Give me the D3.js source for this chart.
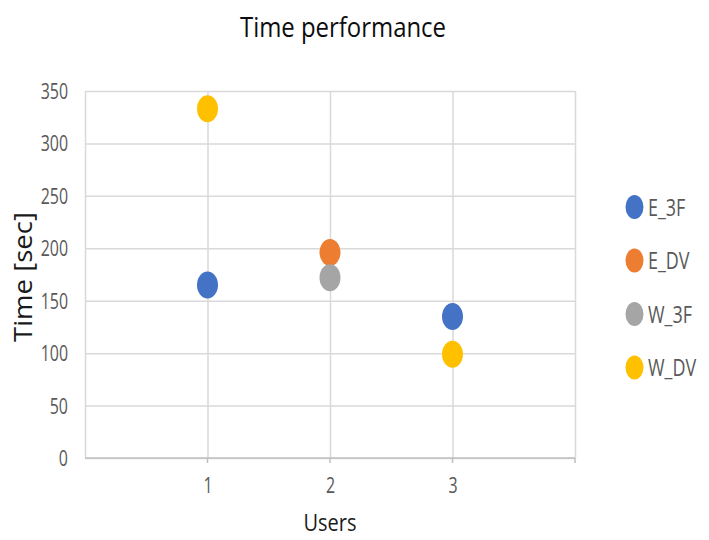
<!DOCTYPE html>
<html>
<head>
<meta charset="utf-8">
<script src="https://cdn.jsdelivr.net/npm/d3@7"></script>
<style>
  html, body { margin: 0; padding: 0; background: #fff; }
  svg { display: block; }
  text { font-family: "Open Sans", "DejaVu Sans", sans-serif; }
</style>
</head>
<body>
<svg id="chart" width="709" height="540"></svg>
<script>
// Users on the x axis and time in seconds per method
const users = [1, 2, 3];
const seriesNames = ["E_3F", "E_DV", "W_3F", "W_DV"];
const seriesColors = ["#4472C4", "#ED7D31", "#A5A5A5", "#FFC000"];
const E_3F = [165, null, 135];
const E_DV = [null, 196, null];
const W_3F = [null, 172, null];
const W_DV = [333, null, 99];
const yTicks = [0, 50, 100, 150, 200, 250, 300, 350];
const xTicks = [1, 2, 3];

const seriesValues = [E_3F, E_DV, W_3F, W_DV];

const svg = d3.select("#chart");
const plot = { left: 85, right: 575, top: 91, bottom: 458 };

const x = d3.scaleLinear().domain([0, 4]).range([plot.left, plot.right]);
const y = d3.scaleLinear().domain([0, 350]).range([plot.bottom, plot.top]);

// condensed text: squeeze glyphs horizontally around their anchor point
function narrow(sel, sx) {
  sel.each(function () {
    const t = d3.select(this);
    const tx = +t.attr("x") || 0, ty = +t.attr("y") || 0;
    const prev = t.attr("transform") || "";
    t.attr("transform", `${prev} translate(${tx},${ty}) scale(${sx},1) translate(${-tx},${-ty})`);
  });
}

// horizontal gridlines with value labels
const yAxis = d3.axisLeft(y).tickValues(yTicks).tickSize(-(plot.right - plot.left)).tickPadding(17);
const gy = svg.append("g").attr("transform", `translate(${plot.left},0)`).call(yAxis);
gy.select(".domain").remove();
gy.selectAll(".tick line").attr("stroke", "#d9d9d9").attr("stroke-width", 1.5);
gy.selectAll(".tick text")
  .attr("fill", "#595959").attr("font-size", 21).attr("dy", "0.36em")
  .call(narrow, 0.76);

// vertical gridlines, including the plot edges
const xAxis = d3.axisBottom(x).tickValues([0, 1, 2, 3, 4])
  .tickSize(-(plot.bottom - plot.top))
  .tickFormat(d => xTicks.includes(d) ? d : "").tickPadding(20);
const gx = svg.append("g").attr("transform", `translate(0,${plot.bottom})`).call(xAxis);
gx.select(".domain").remove();
gx.selectAll(".tick line").attr("stroke", "#d9d9d9").attr("stroke-width", 1.5);
gx.selectAll(".tick text").attr("fill", "#595959").attr("font-size", 21)
  .call(narrow, 0.76);

// small tick marks below the bottom axis
svg.append("g").selectAll("line").data([1, 2, 3, 4]).join("line")
  .attr("x1", d => x(d)).attr("x2", d => x(d))
  .attr("y1", plot.bottom).attr("y2", plot.bottom + 5)
  .attr("stroke", "#bfbfbf").attr("stroke-width", 1.5);

// bottom axis line
svg.append("line")
  .attr("x1", plot.left).attr("x2", plot.right)
  .attr("y1", plot.bottom).attr("y2", plot.bottom)
  .attr("stroke", "#bfbfbf").attr("stroke-width", 1.5);

// markers
seriesValues.forEach((vals, si) => {
  svg.append("g").selectAll("ellipse")
    .data(users.map((u, i) => ({ u, v: vals[i] })).filter(d => d.v != null))
    .join("ellipse")
    .attr("cx", d => x(d.u)).attr("cy", d => y(d.v))
    .attr("rx", 10.5).attr("ry", 13.5)
    .attr("fill", seriesColors[si]);
});

// title
svg.append("text").attr("x", 343).attr("y", 37).attr("text-anchor", "middle")
  .attr("font-size", 28).attr("fill", "#0d0d0d")
  .attr("textLength", 206).attr("lengthAdjust", "spacingAndGlyphs")
  .text("Time performance");

// axis titles
svg.append("text").attr("x", 330).attr("y", 531).attr("text-anchor", "middle")
  .attr("font-size", 24).attr("fill", "#1a1a1a")
  .attr("textLength", 53).attr("lengthAdjust", "spacingAndGlyphs")
  .text("Users");

svg.append("g").attr("transform", "translate(32,277) rotate(-90)")
  .append("text").attr("x", 0).attr("y", 0)
  .attr("text-anchor", "middle").attr("font-size", 26).attr("font-weight", "500")
  .attr("fill", "#1a1a1a")
  .attr("textLength", 130).attr("lengthAdjust", "spacingAndGlyphs")
  .text("Time [sec]");

// legend
const legend = svg.append("g");
seriesNames.forEach((name, i) => {
  const cy = 207 + i * 53.5;
  legend.append("ellipse").attr("cx", 634.5).attr("cy", cy).attr("rx", 9).attr("ry", 12)
    .attr("fill", seriesColors[i]);
  legend.append("text").attr("x", 648).attr("y", cy + 9).attr("font-size", 23)
    .attr("fill", "#595959").text(name).call(narrow, 0.78);
});
</script>
</body>
</html>
